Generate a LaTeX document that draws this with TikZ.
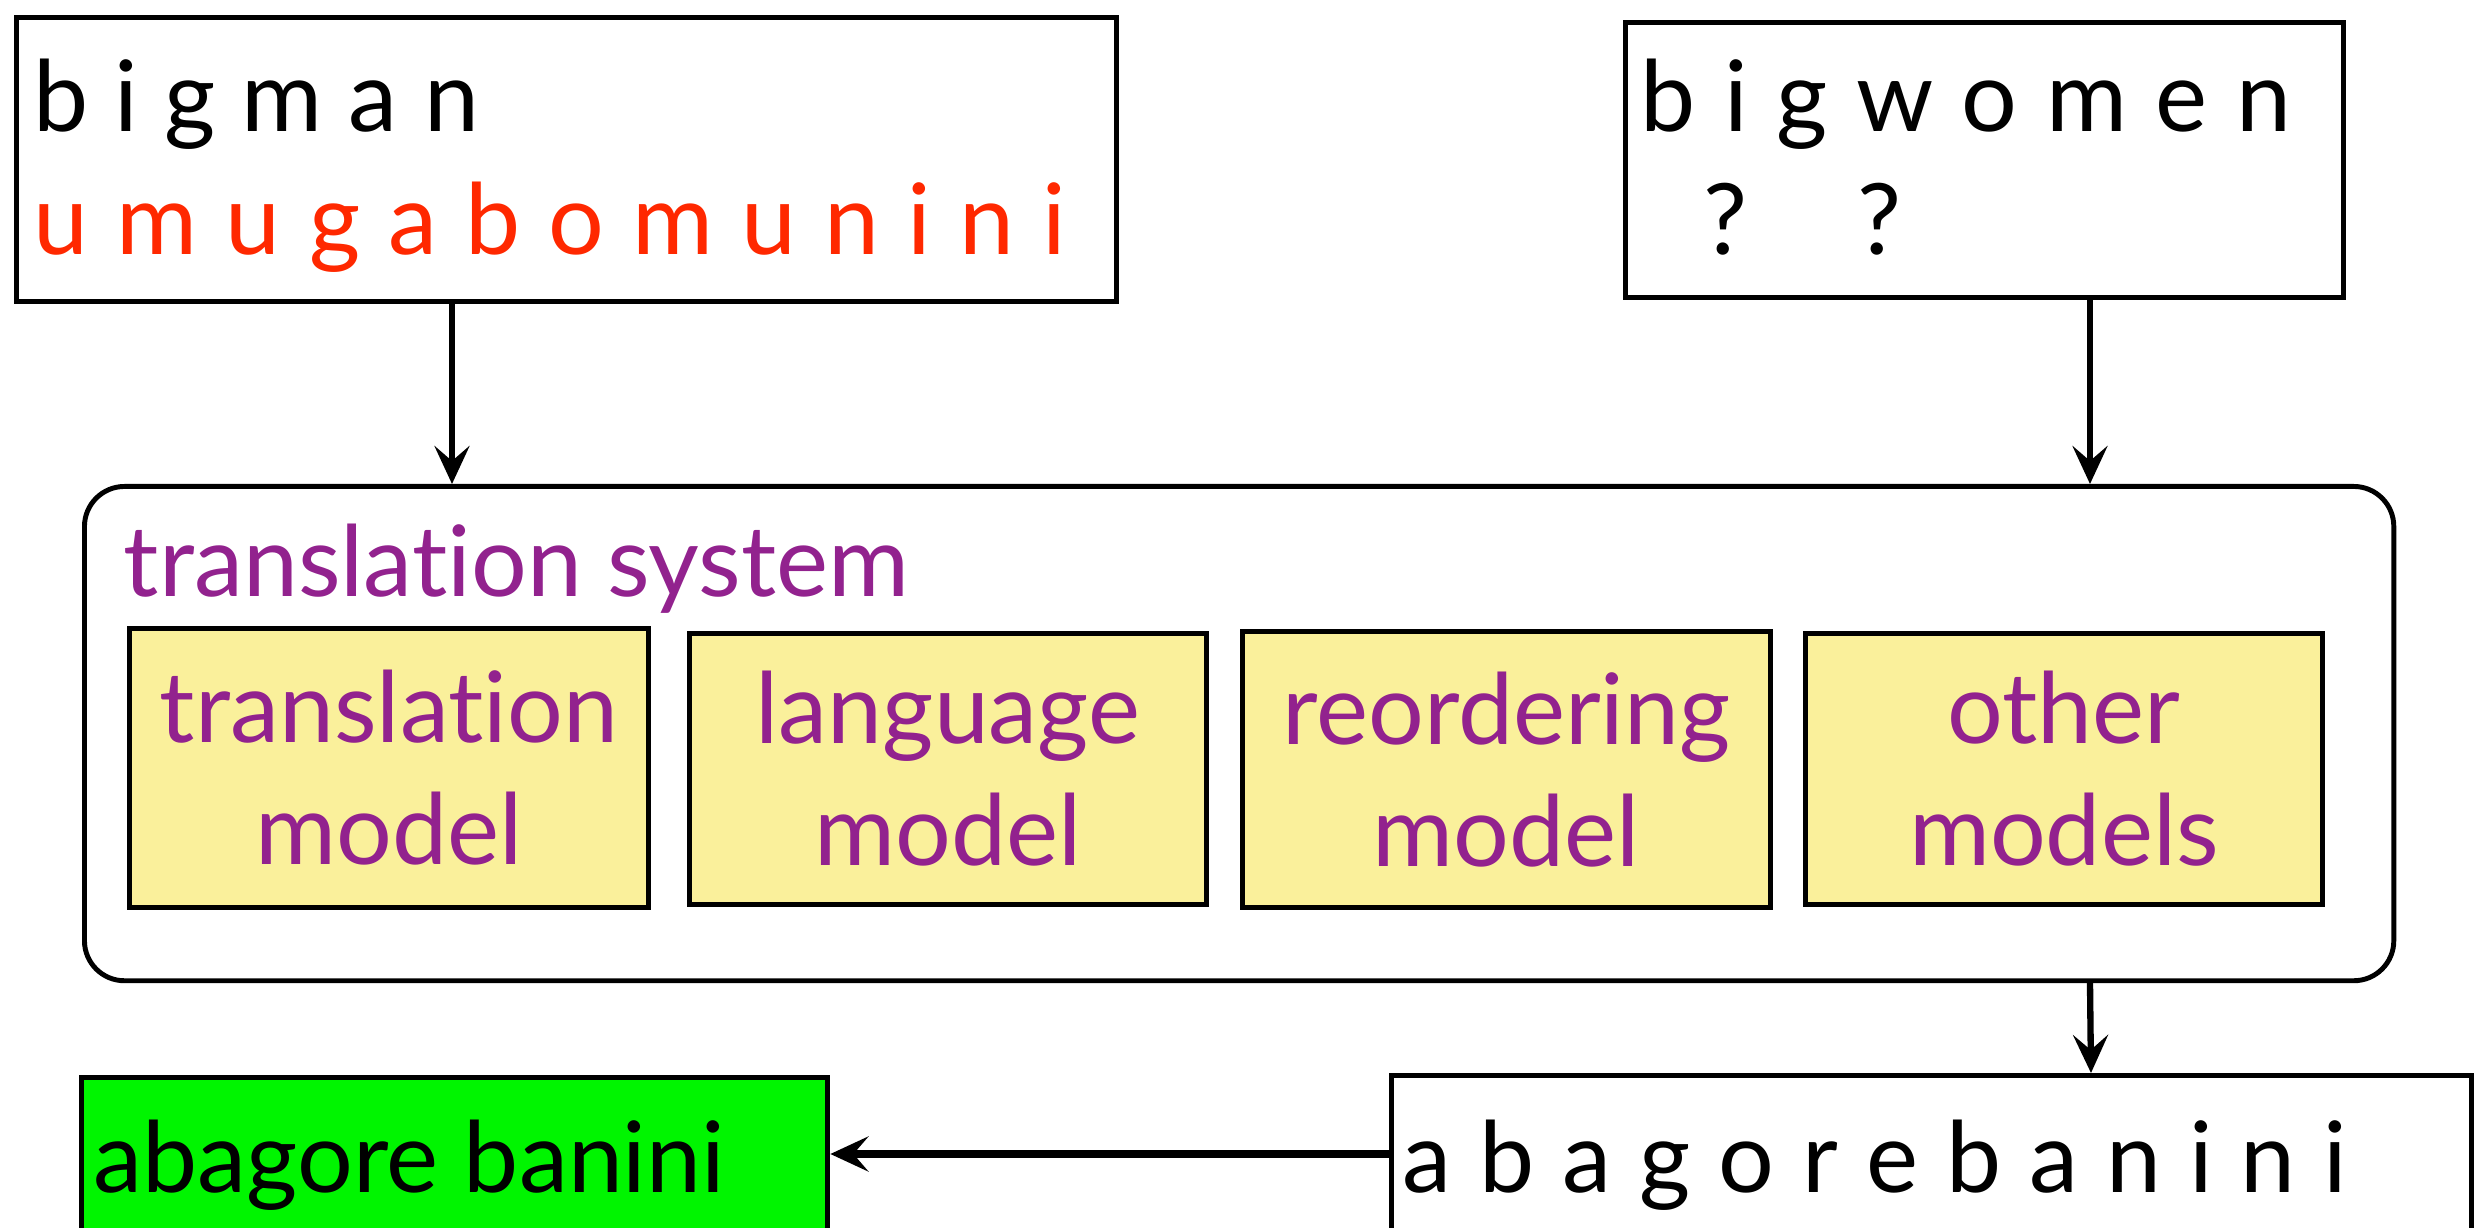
\documentclass[tikz,border=0pt]{standalone}
\usepackage{fontspec}
\setmainfont{Lato}[Ligatures=NoCommon]
\usetikzlibrary{arrows.meta}
\definecolor{srcred}{RGB}{255,40,0}
\definecolor{sysviolet}{RGB}{146,34,142}
\definecolor{modelfill}{RGB}{250,240,155}
\definecolor{outgreen}{RGB}{0,245,0}
\newcommand{\spread}[2]{\makebox[#1][s]{#2}}
\begin{document}
\begin{tikzpicture}[x=0.01cm,y=-0.01cm,
  txt/.style={font=\fontsize{28}{34}\selectfont},
  frame/.style={draw, line width=1.4pt, inner sep=0pt, anchor=north west},
  modelbox/.style={draw, line width=1.4pt, fill=modelfill, inner sep=0pt,
    text=sysviolet, align=center, font=\fontsize{28}{34.7}\selectfont},
  label/.style={txt, anchor=base west, inner sep=0pt},
  arr/.style={line width=1.8pt, -{Stealth[length=0.38cm,width=0.35cm,inset=0.15cm]}}]
\useasboundingbox (0,0) rectangle (2487,1228);
\clip (0,0) rectangle (2487,1228);

% input sentence with its known translation
\node[frame, minimum width=10.99cm, minimum height=2.84cm] (bigman) at (14,15) {};
\node[label] (bigmanA) at (33,132) {\spread{4.45cm}{b i g m a n}};
\node[label, text=srcred] (bigmanB) at (33,255) {\spread{10.32cm}{u m u g a b o m u n i n i}};

% new input sentence
\node[frame, minimum width=7.18cm, minimum height=2.75cm] (bigwomen) at (1623,20) {};
\node[label] (bigwomenA) at (1640,132) {\spread{6.5cm}{b i g w o m e n}};
\node[label] (qA) at (1703,255) {?};
\node[label] (qB) at (1857,255) {?};

% translation system with its component models
\node[draw, line width=1.4pt, rounded corners=0.4cm, inner sep=0pt, anchor=north west,
  minimum width=23.08cm, minimum height=4.94cm] (system) at (82,484) {};
\node[label, text=sysviolet] (systitle) at (123,597) {translation system};

\node[modelbox, minimum width=5.18cm, minimum height=2.78cm] (tm) at (389,768) {translation\\model};
\node[modelbox, minimum width=5.16cm, minimum height=2.70cm] (lm) at (948,769) {language\\model};
\node[modelbox, minimum width=5.27cm, minimum height=2.75cm] (rm) at (1506.5,769.5) {reordering\\model};
\node[modelbox, minimum width=5.16cm, minimum height=2.70cm] (om) at (2064,769) {other\\models};

% output
\node[frame, minimum width=10.79cm, minimum height=2.0cm] (rawout) at (1389,1073) {};
\node[label] (rawoutA) at (1402,1192) {\spread{9.44cm}{a b a g o r e b a n i n i}};
\node[frame, fill=outgreen, minimum width=7.46cm, minimum height=2.0cm] (final) at (79,1075) {};
\node[label] (finalA) at (93,1192) {abagore banini};

% connectors
\draw[arr] (452,0 |- bigman.south) -- (452,0 |- system.north);
\draw[arr] (2090,0 |- bigwomen.south) -- (2090,0 |- system.north);
\draw[arr] (2090,0 |- system.south) -- (2091,0 |- rawout.north);
\draw[arr, line width=2.2pt] (rawout.west |- 0,1154) -- (final.east |- 0,1154);
\end{tikzpicture}
\end{document}
